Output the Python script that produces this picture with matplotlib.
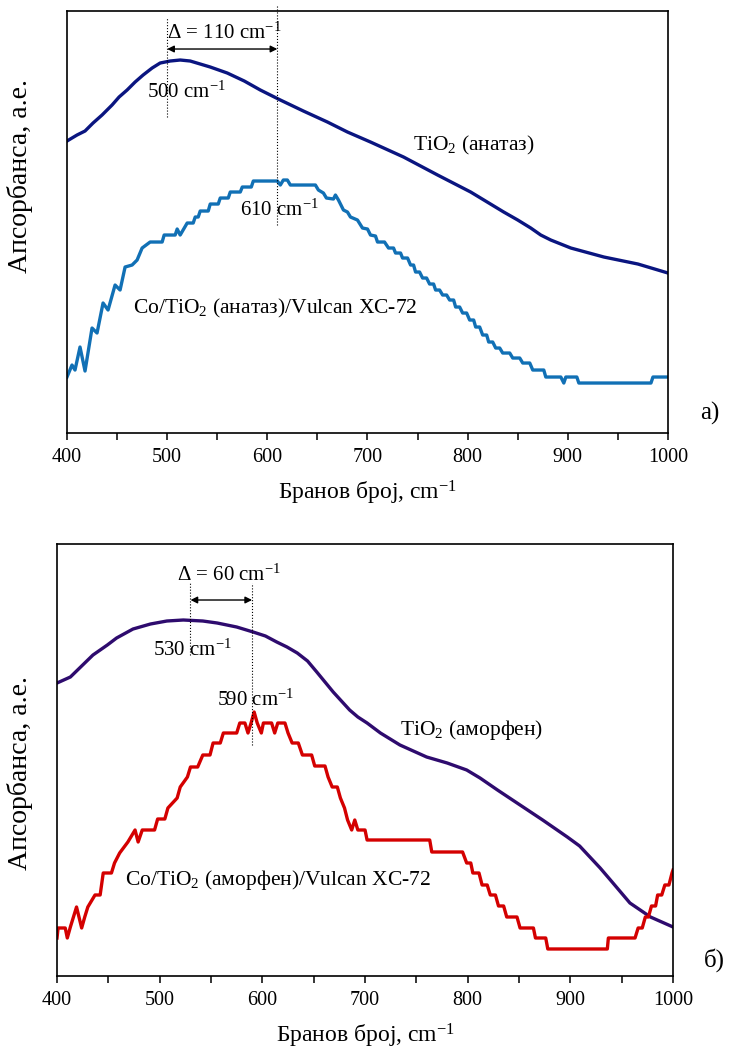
import matplotlib
matplotlib.use("Agg")
import matplotlib.pyplot as plt
from matplotlib.ticker import MultipleLocator

plt.rcParams['font.family'] = ['Liberation Serif', 'DejaVu Serif']
plt.rcParams['mathtext.fontset'] = 'custom'
plt.rcParams['mathtext.rm'] = 'Liberation Serif'
plt.rcParams['mathtext.it'] = 'Liberation Serif:italic'

# --- a) anatase ---
tio2_an_x = [400, 410, 418, 426, 435, 445, 452, 460, 468, 476, 485, 493, 503, 513,
             523, 533, 543, 560, 577, 593, 613, 636, 660, 680, 703, 736, 770, 803,
             836, 850, 863, 873, 883, 903, 936, 970, 1000]
tio2_an_y = [292, 298, 302, 310, 318, 328, 336, 343, 351, 358, 365, 370, 372, 373,
             372, 369, 366, 360, 352, 343, 333, 322, 311, 301, 291, 276, 258, 241,
             221, 213, 205, 198, 193, 185, 176, 169, 160]

co_an_x = [400, 405, 408, 413, 418, 425, 430, 436, 441, 448, 453, 458, 465, 470, 475,
           483, 495, 497, 508, 510, 513, 520, 526, 528, 531, 533, 541, 543, 551, 553,
           561, 563, 573, 575, 584, 586, 610, 613, 616, 620, 623, 648, 651, 656, 659,
           666, 668, 671, 676, 680, 683, 690, 695, 700, 703, 708, 710, 717, 721, 726,
           728, 733, 735, 740, 743, 746, 748, 752, 755, 759, 762, 766, 768, 772, 775,
           779, 782, 786, 788, 792, 795, 799, 802, 806, 808, 812, 815, 819, 821, 825,
           828, 832, 835, 842, 845, 852, 855, 862, 865, 876, 878, 893, 896, 898, 909,
           911, 983, 985, 1000]
co_an_y = [56, 68, 63, 86, 62, 105, 100, 130, 123, 148, 143, 166, 168, 173, 185,
           191, 191, 198, 198, 204, 198, 210, 210, 216, 216, 222, 222, 229, 229, 235,
           235, 241, 241, 246, 246, 252, 252, 248, 253, 253, 248, 248, 243, 240, 235,
           234, 238, 233, 223, 221, 216, 213, 205, 204, 198, 197, 191, 191, 185, 185,
           180, 180, 175, 175, 168, 168, 161, 161, 155, 155, 149, 149, 143, 143, 138,
           138, 133, 133, 126, 126, 120, 120, 113, 113, 106, 106, 98, 98, 91, 91,
           85, 85, 80, 80, 75, 75, 70, 70, 63, 63, 56, 56, 50, 56, 56,
           50, 50, 56, 56]

# --- б) amorphous ---
tio2_am_x = [400, 413, 425, 435, 449, 458, 474, 491, 507, 523, 542, 556, 575, 591,
             603, 614, 624, 634, 644, 653, 661, 669, 677, 685, 693, 702, 715, 734,
             747, 760, 780, 799, 812, 829, 851, 873, 897, 909, 919, 929, 939, 958,
             978, 1000]
tio2_am_y = [293, 299, 311, 321, 331, 338, 347, 352, 355, 356, 355, 353, 349, 344,
             340, 334, 329, 323, 315, 304, 294, 284, 275, 266, 259, 253, 243, 231,
             225, 219, 213, 206, 198, 186, 171, 156, 139, 130, 119, 108, 96, 73,
             59, 49]

co_am_x = [400, 401, 408, 410, 413, 419, 424, 427, 430, 437, 442, 445, 453, 456, 461,
           469, 476, 479, 483, 495, 498, 505, 508, 517, 520, 527, 530, 537, 542, 549,
           552, 559, 562, 575, 578, 583, 586, 589, 592, 595, 599, 601, 609, 612, 615,
           622, 625, 629, 635, 639, 648, 651, 661, 664, 668, 673, 676, 680, 683, 687,
           690, 693, 700, 702, 763, 765, 795, 799, 803, 805, 811, 814, 819, 822, 827,
           830, 835, 838, 848, 851, 864, 866, 876, 878, 936, 937, 963, 966, 970, 973,
           976, 979, 983, 985, 989, 992, 996, 999, 1000]
co_am_y = [38, 48, 48, 38, 49, 69, 48, 59, 69, 81, 81, 103, 103, 113, 123,
           134, 146, 134, 146, 146, 157, 157, 168, 178, 189, 199, 209, 209, 221, 221,
           233, 233, 243, 243, 253, 253, 243, 253, 264, 253, 243, 253, 253, 243, 253,
           253, 243, 233, 233, 221, 221, 210, 210, 199, 189, 189, 178, 168, 156, 146,
           156, 146, 146, 136, 136, 124, 124, 113, 113, 103, 103, 91, 91, 81, 81,
           70, 70, 59, 59, 48, 48, 38, 38, 27, 27, 38, 38, 48, 48, 59,
           59, 70, 70, 81, 81, 91, 91, 103, 106]

peak_a = (500, 610)
peak_b = (530, 590)

xlabel = 'Бранов број, cm$^{-1}$'
ylabel = 'Апсорбанса, а.е.'

fig = plt.figure(figsize=(7.33, 10.49), dpi=100)
ax1 = fig.add_axes([0.0914, 0.5872, 0.8199, 0.4023])
ax2 = fig.add_axes([0.0778, 0.0696, 0.8404, 0.4118])


def style(ax, ymax, ylab_pos):
    ax.set_xlim(400, 1000)
    ax.set_ylim(0, ymax)
    ax.xaxis.set_major_locator(MultipleLocator(100))
    ax.xaxis.set_minor_locator(MultipleLocator(50))
    ax.tick_params(axis='x', which='both', direction='out', length=5, width=1.1,
                   labelsize=14.5, pad=6)
    ax.tick_params(axis='y', which='both', left=False, labelleft=False)
    for s in ax.spines.values():
        s.set_linewidth(1.2)
    ax.set_xlabel(xlabel, fontsize=17, labelpad=8)
    ax.set_ylabel(ylabel, fontsize=20)
    ax.yaxis.set_label_coords(*ylab_pos)


# top panel
ax1.plot(tio2_an_x, tio2_an_y, color='#0a1580', lw=2.4)
ax1.plot(co_an_x, co_an_y, color='#1170b5', lw=2.4)
style(ax1, 422, (-0.056, 0.61))
ax1.plot([peak_a[0]] * 2, [316, 416], ls=':', color='k', lw=0.8)
ax1.plot([peak_a[1]] * 2, [208, 428], ls=':', color='k', lw=0.8, clip_on=False)
ax1.annotate('', xy=(peak_a[0], 384), xytext=(peak_a[1], 384),
             arrowprops=dict(arrowstyle='<|-|>', color='k', lw=1.0,
                             mutation_scale=10, shrinkA=0, shrinkB=0))
ax1.text(peak_a[0], 400, r'$\Delta$ = %d cm$^{-1}$' % (peak_a[1] - peak_a[0]),
         fontsize=15, va='center', ha='left')
ax1.text(480, 341, '%d cm$^{-1}$' % peak_a[0], fontsize=15, va='center')
ax1.text(573, 223, '%d cm$^{-1}$' % peak_a[1], fontsize=15, va='center')
ax1.text(745, 288, 'TiO$_2$ (анатаз)', fontsize=15.5, va='center')
ax1.text(466, 125, 'Co/TiO$_2$ (анатаз)/Vulcan XC-72', fontsize=15.5, va='center')

# bottom panel
ax2.plot(tio2_am_x, tio2_am_y, color='#2e0b6e', lw=2.4)
ax2.plot(co_am_x, co_am_y, color='#d40000', lw=2.4)
style(ax2, 432, (-0.039, 0.47))
ax2.plot([peak_b[0]] * 2, [321, 393], ls=':', color='k', lw=0.8)
ax2.plot([peak_b[1]] * 2, [231, 393], ls=':', color='k', lw=0.8)
ax2.annotate('', xy=(peak_b[0], 376), xytext=(peak_b[1], 376),
             arrowprops=dict(arrowstyle='<|-|>', color='k', lw=1.0,
                             mutation_scale=10, shrinkA=0, shrinkB=0))
ax2.text(517, 401, r'$\Delta$ = %d cm$^{-1}$' % (peak_b[1] - peak_b[0]),
         fontsize=15, va='center', ha='left')
ax2.text(493, 326, '%d cm$^{-1}$' % peak_b[0], fontsize=15, va='center')
ax2.text(556, 276, '%d cm$^{-1}$' % peak_b[1], fontsize=15, va='center')
ax2.text(734, 246, 'TiO$_2$ (аморфен)', fontsize=15.5, va='center')
ax2.text(466, 96, 'Co/TiO$_2$ (аморфен)/Vulcan XC-72', fontsize=15.5, va='center')

fig.text(0.9686, 0.606, 'а)', fontsize=18, ha='center', va='center')
fig.text(0.975, 0.085, 'б)', fontsize=18, ha='center', va='center')

fig.savefig('out.png', dpi=100)
